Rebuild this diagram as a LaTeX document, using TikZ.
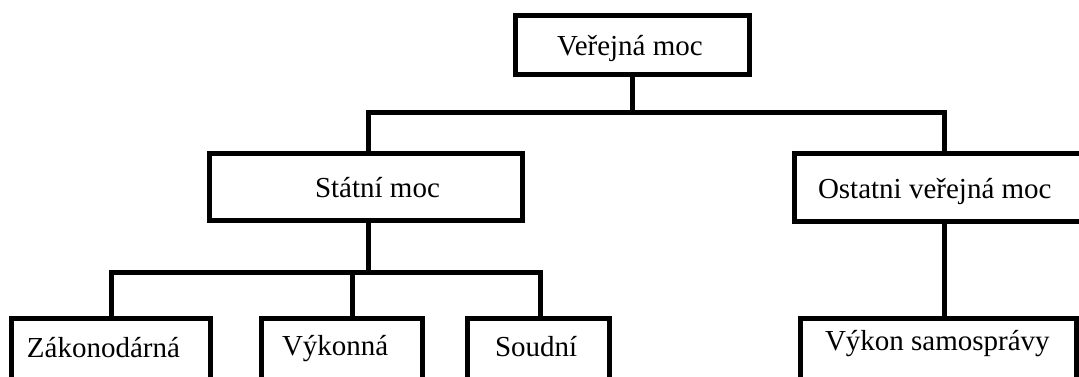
\documentclass[tikz,border=0pt]{standalone}
\usepackage{fontspec}
\setmainfont{Liberation Serif}
\begin{document}
\begin{tikzpicture}[x=1pt,y=-1pt,
  box/.style={draw=black,line width=5pt,fill=white,inner sep=0pt,outer sep=0pt,
    minimum width=#1},
  lbl/.style={anchor=base west,inner sep=0pt,outer sep=0pt,
    font=\fontsize{29}{33}\selectfont},
  link/.style={draw=black,line width=5pt,line cap=rect}]
\useasboundingbox (0,0) rectangle (1079,376);
\clip (0,0) rectangle (1079,376);

% connectors (drawn first, boxes cover their ends)
\coordinate (busA) at (632.5,112.5);
\coordinate (busB) at (368,272);
\coordinate (dropZ) at (111,272);
\coordinate (dropV) at (352,272);
\coordinate (dropS) at (540,272);

% boxes
\node[box=234, minimum height=59] (top) at (632.5,45) {};
\node[box=313, minimum height=67] (stat) at (366,187) {};
\node[box=300, minimum height=67.5] (ost) at (944.5,187.25) {};
\node[box=199, minimum height=82] (zak) at (110.5,359) {};
\node[box=160.5, minimum height=82] (vyk) at (341.75,359) {};
\node[box=142.5, minimum height=82] (soud) at (538.25,359) {};
\node[box=276.5, minimum height=82] (sam) at (938.25,359) {};

% tree lines
\draw[link] (top.south) -- (busA);
\draw[link] (stat.north -| busB) |- (busA) -| (ost.north);
\draw[link] (stat.south -| busB) -- (busB);
\draw[link] (dropZ) -- (dropS);
\draw[link] (dropZ) -- (dropZ |- zak.north);
\draw[link] (dropV) -- (dropV |- vyk.north);
\draw[link] (dropS) -- (dropS |- soud.north);
\draw[link] (ost.south) -- (ost.south |- sam.north);

% labels
\node[lbl] (tTop) at (557,55) {Veřejná moc};
\node[lbl] (tStat) at (315,197) {Státní moc};
\node[lbl] (tOst) at (818,198) {Ostatni veřejná moc};
\node[lbl] (tZak) at (27,357) {Zákonodárná};
\node[lbl] (tVyk) at (282,355) {Výkonná};
\node[lbl] (tSoud) at (495,356) {Soudní};
\node[lbl] (tSam) at (825,350) {Výkon samosprávy};
\end{tikzpicture}
\end{document}
